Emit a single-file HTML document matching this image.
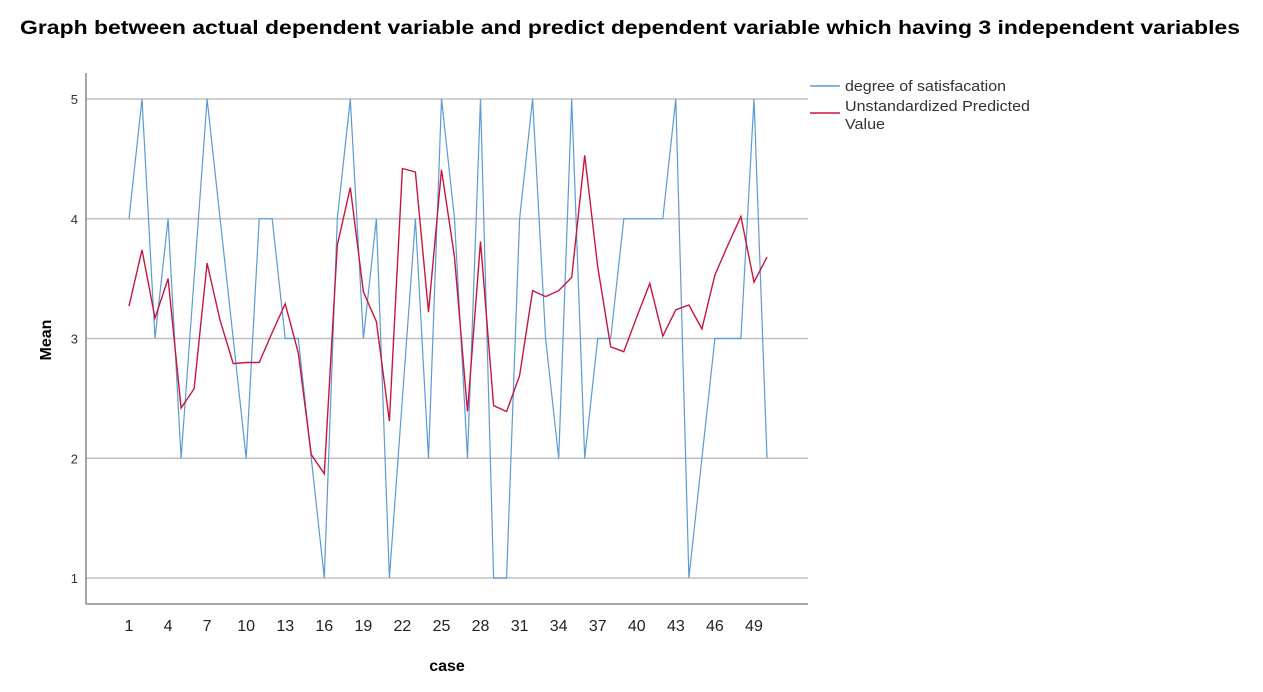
<!DOCTYPE html>
<html><head><meta charset="utf-8"><style>
body{margin:0;background:#fff;}
svg{display:block;font-family:"Liberation Sans",Arial,sans-serif;}
</style></head><body>
<svg id="chart" width="1263" height="692" viewBox="0 0 1263 692">
<text x="20" y="34" font-size="19" font-weight="bold" textLength="1220" lengthAdjust="spacingAndGlyphs">Graph between actual dependent variable and predict dependent variable which having 3 independent variables</text>
<g id="grid"></g>
<g id="yticks"></g>
<g id="xticks"></g>
<line x1="86" y1="73" x2="86" y2="604" stroke="#888" stroke-width="1.5"/>
<line x1="86" y1="604" x2="808" y2="604" stroke="#888" stroke-width="1.5"/>
<path id="actual" fill="none" stroke="#5b9bd5" stroke-width="1.2"/>
<path id="pred" fill="none" stroke="#c8163e" stroke-width="1.4"/>
<text x="447" y="671" font-size="16" font-weight="bold" text-anchor="middle">case</text>
<text transform="translate(51,340) rotate(-90)" font-size="16" font-weight="bold" text-anchor="middle">Mean</text>
<g>
<g><line x1="810" y1="86" x2="840" y2="86" stroke="#5b9bd5" stroke-width="1.5"/><text x="845" y="91" font-size="15" fill="#333" textLength="161" lengthAdjust="spacingAndGlyphs">degree of satisfacation</text></g>
<g><line x1="810" y1="113" x2="840" y2="113" stroke="#c8163e" stroke-width="1.5"/><text x="845" y="111" font-size="15" fill="#333" textLength="185" lengthAdjust="spacingAndGlyphs">Unstandardized Predicted</text><text x="845" y="129" font-size="15" fill="#333" textLength="40" lengthAdjust="spacingAndGlyphs">Value</text></g>
</g>
</svg>
<script>
const cases = Array.from({length:50},(_,i)=>i+1);
const actualValues = [4,5,3,4,2,3.5,5,4,3,2,4,4,3,3,2,1,4,5,3,4,1,2.5,4,2,5,4,2,5,1,1,4,5,3,2,5,2,3,3,4,4,4,4,5,1,2,3,3,3,5,2];
const predictedValues = [3.27,3.74,3.17,3.5,2.42,2.58,3.63,3.15,2.79,2.8,2.8,3.05,3.29,2.88,2.03,1.87,3.78,4.26,3.39,3.14,2.31,4.42,4.39,3.22,4.41,3.68,2.39,3.81,2.44,2.39,2.69,3.4,3.35,3.4,3.51,4.53,3.6,2.93,2.89,3.18,3.46,3.02,3.24,3.28,3.08,3.53,3.78,4.02,3.47,3.68];
const yTicks = [1,2,3,4,5];
const xTickLabels = [1,4,7,10,13,16,19,22,25,28,31,34,37,40,43,46,49];
const NS="http://www.w3.org/2000/svg";
function xs(c){return 129+(c-1)*13.02;}
function ys(v){return 99+(5-v)*119.75;}
const grid=document.getElementById('grid'), yt=document.getElementById('yticks'), xt=document.getElementById('xticks');
yTicks.forEach(v=>{
  const l=document.createElementNS(NS,'line');
  l.setAttribute('x1',86);l.setAttribute('x2',808);l.setAttribute('y1',ys(v));l.setAttribute('y2',ys(v));
  l.setAttribute('stroke','#c0c0c0');l.setAttribute('stroke-width','1.5');
  
  
  grid.appendChild(l);
  const t=document.createElementNS(NS,'text');
  t.setAttribute('x',78);t.setAttribute('y',ys(v)+5);t.setAttribute('text-anchor','end');t.setAttribute('font-size','13');t.setAttribute('fill','#333');
  t.textContent=v;
  
  
  yt.appendChild(t);
});
xTickLabels.forEach(c=>{
  const t=document.createElementNS(NS,'text');
  t.setAttribute('x',xs(c));t.setAttribute('y',631);t.setAttribute('text-anchor','middle');t.setAttribute('font-size','16');t.setAttribute('fill','#222');
  t.textContent=c;
  
  
  xt.appendChild(t);
});
function pathOf(vals){return vals.map((v,i)=>(i?'L':'M')+xs(cases[i]).toFixed(1)+' '+ys(v).toFixed(1)).join(' ');}
document.getElementById('actual').setAttribute('d',pathOf(actualValues));
document.getElementById('pred').setAttribute('d',pathOf(predictedValues));
</script>
</body></html>
